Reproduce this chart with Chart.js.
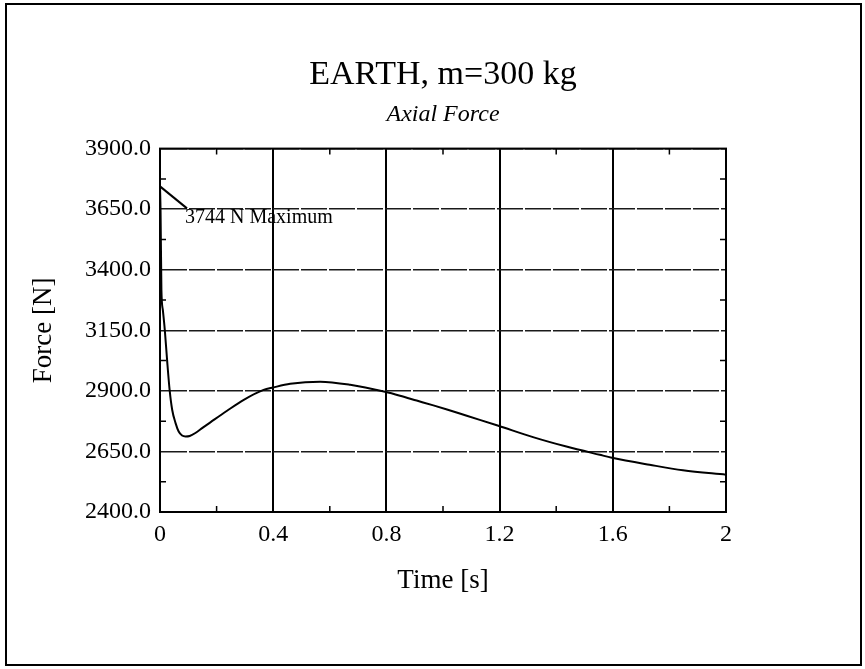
<!DOCTYPE html>
<html>
<head>
<meta charset="utf-8">
<title>Axial Force</title>
<script src="https://cdn.jsdelivr.net/npm/chart.js@4/dist/chart.umd.min.js"></script>
<style>
  html, body { margin: 0; padding: 0; background: #fff; }
  #wrap { width: 865px; height: 669px; }
</style>
</head>
<body>
<div id="wrap"><canvas id="forceChart" width="865" height="669"></canvas></div>
<script>
// Axial force history, EARTH case, m = 300 kg
const timeValues = [0, 0.002, 0.005, 0.010, 0.017, 0.025, 0.034, 0.043, 0.055, 0.066, 0.078, 0.09, 0.105,
    0.125, 0.15, 0.178, 0.237, 0.296, 0.366, 0.40, 0.46, 0.566, 0.672, 0.795, 0.848, 0.907, 0.966, 1.017,
    1.084, 1.193, 1.318, 1.436, 1.554, 1.597, 1.73, 1.848, 2.0];
const forceValues = [3744, 3640, 3316, 3234, 3151, 3028, 2904, 2822, 2767, 2732, 2716, 2712, 2714,
    2726, 2747, 2770, 2818, 2863, 2904, 2914, 2929, 2938, 2925, 2896, 2880, 2860, 2840, 2822,
    2797, 2757, 2709, 2670, 2636, 2624, 2595, 2572, 2554];

const xTickValues = [0, 0.4, 0.8, 1.2, 1.6, 2];
const yTickValues = [2400, 2650, 2900, 3150, 3400, 3650, 3900];
const xMinorTicks = [0.2, 0.6, 1.0, 1.4, 1.8];
const yMinorTicks = [2525, 2775, 3025, 3275, 3525, 3775];

const serif = "'Liberation Serif', 'Times New Roman', 'DejaVu Serif', serif";
Chart.defaults.font.family = serif;
Chart.defaults.color = '#000';

const points = timeValues.map((t, i) => ({ x: t, y: forceValues[i] }));

// Page frame, plot box, inward ticks and the peak note
const plotDecor = {
    id: 'plotDecor',
    beforeDraw(chart) {
        const ctx = chart.ctx;
        ctx.save();
        ctx.fillStyle = '#fff';
        ctx.fillRect(0, 0, chart.width, chart.height);
        ctx.strokeStyle = '#000';
        ctx.lineWidth = 2;
        ctx.strokeRect(6, 4, chart.width - 10, chart.height - 8);
        ctx.restore();
    },
    afterDatasetsDraw(chart) {
        const { ctx, chartArea: a, scales: { x, y } } = chart;
        ctx.save();
        ctx.strokeStyle = '#000';
        ctx.lineWidth = 2;
        ctx.strokeRect(a.left, a.top, a.right - a.left, a.bottom - a.top);

        ctx.lineWidth = 1.5;
        ctx.beginPath();
        xMinorTicks.forEach(v => {
            const px = x.getPixelForValue(v);
            ctx.moveTo(px, a.bottom); ctx.lineTo(px, a.bottom - 6);
            ctx.moveTo(px, a.top); ctx.lineTo(px, a.top + 6);
        });
        yMinorTicks.forEach(v => {
            const py = y.getPixelForValue(v);
            ctx.moveTo(a.left, py); ctx.lineTo(a.left + 6, py);
            ctx.moveTo(a.right, py); ctx.lineTo(a.right - 6, py);
        });
        ctx.stroke();

        // label the maximum force
        const peak = Math.max(...forceValues);
        const at = forceValues.indexOf(peak);
        const px = x.getPixelForValue(timeValues[at]);
        const py = y.getPixelForValue(peak);
        ctx.lineWidth = 2;
        ctx.beginPath();
        ctx.moveTo(px, py);
        ctx.lineTo(px + 27, py + 22);
        ctx.stroke();
        ctx.fillStyle = '#000';
        ctx.font = '20px ' + serif;
        ctx.textBaseline = 'alphabetic';
        ctx.textAlign = 'left';
        ctx.fillText(peak + ' N Maximum', px + 25, py + 37);
        ctx.restore();
    }
};

new Chart(document.getElementById('forceChart'), {
    type: 'line',
    data: {
        datasets: [{
            label: 'Axial Force',
            data: points,
            borderColor: '#000',
            borderWidth: 2,
            pointRadius: 0,
            fill: false,
            cubicInterpolationMode: 'monotone'
        }]
    },
    options: {
        responsive: false,
        animation: false,
        devicePixelRatio: 1,
        layout: { padding: { top: 40, right: 139, bottom: 0, left: 0 } },
        plugins: {
            legend: { display: false },
            tooltip: { enabled: false },
            title: {
                display: true,
                text: 'EARTH, m=300 kg',
                fullSize: false,
                color: '#000',
                font: { size: 34, weight: 'normal' },
                padding: { top: 15, bottom: 0 }
            },
            subtitle: {
                display: true,
                text: 'Axial Force',
                fullSize: false,
                color: '#000',
                font: { size: 24, style: 'italic' },
                padding: { top: 4, bottom: 20 }
            }
        },
        scales: {
            x: {
                type: 'linear',
                min: 0,
                max: 2,
                afterBuildTicks: axis => { axis.ticks = xTickValues.map(v => ({ value: v })); },
                afterFit: scale => { scale.height = 157; },
                ticks: {
                    color: '#000',
                    font: { size: 24 },
                    padding: 8,
                    maxRotation: 0,
                    callback: v => String(v)
                },
                grid: { color: '#000', lineWidth: 2, drawTicks: false },
                border: { color: '#000', width: 2 },
                title: {
                    display: true,
                    text: 'Time [s]',
                    color: '#000',
                    font: { size: 27 },
                    padding: { top: 0, bottom: 72 }
                }
            },
            y: {
                min: 2400,
                max: 3900,
                afterBuildTicks: axis => { axis.ticks = yTickValues.map(v => ({ value: v })); },
                afterFit: scale => { scale.width = 160; },
                ticks: {
                    color: '#000',
                    font: { size: 24 },
                    padding: 9,
                    callback: v => v.toFixed(1)
                },
                grid: { color: '#1a1a1a', lineWidth: 1.5, drawTicks: false },
                border: { color: '#000', width: 2, dash: [26, 2] },
                title: {
                    display: true,
                    text: 'Force [N]',
                    color: '#000',
                    font: { size: 27 },
                    padding: { top: 28, bottom: 0 }
                }
            }
        }
    },
    plugins: [plotDecor]
});
</script>
</body>
</html>
